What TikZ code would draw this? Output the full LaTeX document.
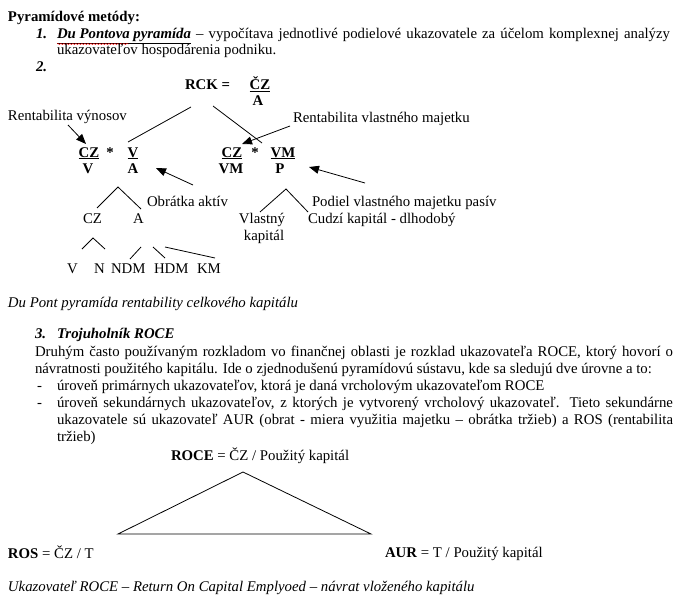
\documentclass[tikz,border=0pt]{standalone}
\usepackage{fontspec}
\setmainfont{Liberation Serif}
\usetikzlibrary{arrows.meta,decorations.pathmorphing}
\begin{document}
\fontsize{14.8}{17}\selectfont
\begin{tikzpicture}[x=1pt,y=-1pt,
  every node/.style={inner sep=0pt,outer sep=0pt},
  txt/.style={anchor=base west},
  ctr/.style={anchor=base},
  bf/.style={font=\bfseries},
  ln/.style={line width=0.8pt},
  arr/.style={line width=0.8pt,-{Triangle[length=10pt,width=8pt]}}]
\fill[white] (0,0) rectangle (682,599);
\useasboundingbox (0,0) rectangle (682,599);

% header
\node[txt,font=\bfseries] (title) at (8,22) {Pyramídové metódy:};
\node[txt,font=\bfseries\itshape] (n1) at (36,39) {1.};
\node[txt] (l1) at (57,39) {\makebox[613pt][s]{\textbf{\textit{\underline{Du Pontova pyramída}}} – vypočítava jednotlivé podielové ukazovatele za účelom komplexnej analýzy}};
\draw[red,line width=0.4pt,decorate,decoration={snake,segment length=3pt,amplitude=0.6pt}] (57,44) -- (129,44);
\node[txt] (l1b) at (57,55) {ukazovateľov hospodárenia podniku.};
\node[txt,font=\bfseries\itshape] (n2) at (36,72) {2.};

% pyramid
\node[txt,bf] (rck) at (185,90) {RCK =};
\node[ctr,bf] (cz0) at (260,90) {\underline{ČZ}};
\node[ctr,bf] (a0) at (258,106) {A};

\node[ctr,bf] (f1t) at (89,157) {\underline{CZ}};
\node[ctr,bf] (f1b) at (88,173) {V};
\node[ctr,bf] (s1) at (110,157) {*};
\node[ctr,bf] (f2t) at (133,157) {\underline{V}};
\node[ctr,bf] (f2b) at (133,173) {A};
\node[ctr,bf] (f3t) at (232,157) {\underline{CZ}};
\node[ctr,bf] (f3b) at (231,173) {VM};
\node[ctr,bf] (s2) at (255,157) {*};
\node[ctr,bf] (f4t) at (283,157) {\underline{VM}};
\node[ctr,bf] (f4b) at (280,173) {P};

\node[txt] (rv) at (8,121) {Rentabilita výnosov};
\node[txt] (rvm) at (293,122) {Rentabilita vlastného majetku};
\node[txt] (oa) at (147,206) {Obrátka aktív};
\node[txt] (pv) at (312,206) {Podiel vlastného majetku pasív};
\node[txt] (cz) at (83,223) {CZ};
\node[txt] (a) at (133,223) {A};
\node[ctr] (vl) at (262,223) {Vlastný};
\node[ctr] (kap) at (264,240) {kapitál};
\node[txt] (cudzi) at (308,223) {Cudzí kapitál - dlhodobý};
\node[txt] (bv) at (67,273) {V};
\node[txt] (bn) at (94,273) {N};
\node[txt] (bndm) at (111,273) {NDM};
\node[txt] (bhdm) at (154,273) {HDM};
\node[txt] (bkm) at (197,273) {KM};
\node[txt,font=\itshape] (cap1) at (8,307) {Du Pont pyramída rentability celkového kapitálu};

% connector end points
\coordinate (r1) at (191,107); \coordinate (r1e) at (128,142);
\coordinate (r2) at (213,106); \coordinate (r2e) at (262,143);
\coordinate (ta) at (118,187); \coordinate (tal) at (97,208); \coordinate (tar) at (141,209);
\coordinate (tc) at (93,238); \coordinate (tcl) at (82,249); \coordinate (tcr) at (105,249);
\coordinate (q1a) at (130,259); \coordinate (q1b) at (141,247);
\coordinate (q2a) at (153,247); \coordinate (q2b) at (165,258);
\coordinate (q3a) at (165,247); \coordinate (q3b) at (215,258);
\coordinate (tr) at (286,189); \coordinate (trl) at (260,212); \coordinate (trr) at (308,212);
\coordinate (a1s) at (68,125); \coordinate (a1e) at (86,144);
\coordinate (a2s) at (290,126); \coordinate (a2e) at (242,144);
\coordinate (a3s) at (193,185); \coordinate (a3e) at (156,168);
\coordinate (a4s) at (365,183); \coordinate (a4e) at (309,167);

\draw[ln] (r1) -- (r1e);
\draw[ln] (r2) -- (r2e);
\draw[ln] (tal) -- (ta) -- (tar);
\draw[ln] (tcl) -- (tc) -- (tcr);
\draw[ln] (q1a) -- (q1b);
\draw[ln] (q2a) -- (q2b);
\draw[ln] (q3a) -- (q3b);
\draw[ln] (trl) -- (tr) -- (trr);
\draw[arr] (a1s) -- (a1e);
\draw[arr] (a2s) -- (a2e);
\draw[arr] (a3s) -- (a3e);
\draw[arr] (a4s) -- (a4e);

% section 3
\node[txt,font=\bfseries\itshape] (n3) at (35,338) {3.};
\node[txt,font=\bfseries\itshape] (h3) at (57,338) {Trojuholník ROCE};
\node[txt] (p1) at (35,356) {\makebox[638pt][s]{Druhým často používaným rozkladom vo finančnej oblasti je rozklad ukazovateľa ROCE, ktorý hovorí o}};
\node[txt] (p2) at (35,373) {návratnosti použitého kapitálu. Ide o zjednodušenú pyramídovú sústavu, kde sa sledujú dve úrovne a to:};
\node[txt] (d1) at (37,390) {-};
\node[txt] (i1) at (57,390) {úroveň primárnych ukazovateľov, ktorá je daná vrcholovým ukazovateľom ROCE};
\node[txt] (d2) at (37,407) {-};
\node[txt] (i2a) at (57,407) {\makebox[616pt][s]{úroveň sekundárnych ukazovateľov, z ktorých je vytvorený vrcholový ukazovateľ. Tieto sekundárne}};
\node[txt] (i2b) at (57,424) {\makebox[616pt][s]{ukazovatele sú ukazovateľ AUR (obrat - miera využitia majetku – obrátka tržieb) a ROS (rentabilita}};
\node[txt] (i2c) at (57,441) {tržieb)};

\node[txt] (roce) at (171,460) {\textbf{ROCE} = ČZ / Použitý kapitál};
\coordinate (t1) at (243,472); \coordinate (t2) at (118,534); \coordinate (t3) at (371,534);
\draw[ln] (t1) -- (t2) -- (t3) -- cycle;
\node[txt] (ros) at (8,558) {\textbf{ROS} = ČZ / T};
\node[txt] (aur) at (385,557) {\textbf{AUR} = T / Použitý kapitál};
\node[txt,font=\itshape] (cap2) at (8,591) {Ukazovateľ ROCE – Return On Capital Emplyoed – návrat vloženého kapitálu};
\end{tikzpicture}
\end{document}
